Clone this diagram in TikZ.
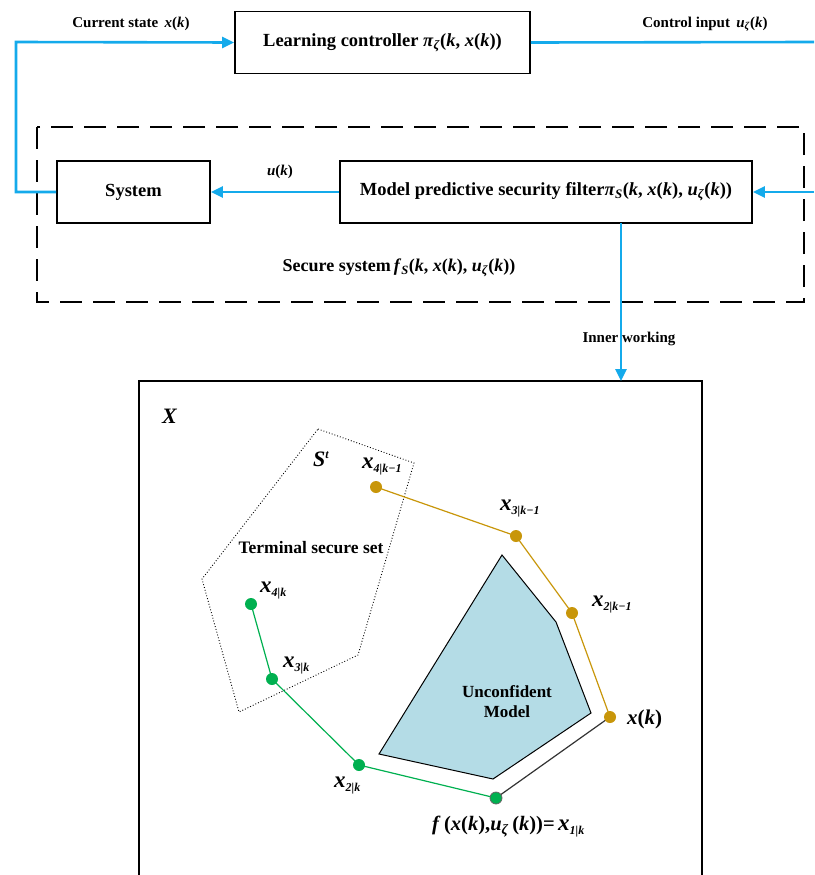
\documentclass[tikz,border=0pt]{standalone}
\usepackage{fontspec}
\setmainfont{Liberation Serif}
\usetikzlibrary{arrows.meta}
\definecolor{flow}{RGB}{20,170,235}
\definecolor{gold}{RGB}{200,150,10}
\definecolor{grn}{RGB}{0,176,80}
\definecolor{unc}{RGB}{180,220,230}
\newcommand{\vi}[1]{\textit{#1}}
\newcommand{\bigx}[1]{{\fontsize{23}{23}\selectfont\textit{x}}\raisebox{-4pt}{\fontsize{12}{12}\selectfont\textit{#1}}}
\begin{document}
\begin{tikzpicture}[x=1pt,y=-1pt,
  blk/.style={draw,line width=1.8pt,minimum height=62pt,inner sep=0pt,font=\fontsize{18.5}{18.5}\selectfont\bfseries},
  flowline/.style={flow,line width=2.6pt},
  flowarrow/.style={flowline,-{Triangle[length=12pt,width=11pt]}},
  lbl/.style={font=\fontsize{15}{15}\selectfont\bfseries,inner sep=0pt},
  gdot/.style={circle,fill=gold,minimum size=12pt,inner sep=0pt},
  ndot/.style={circle,fill=grn,minimum size=12pt,inner sep=0pt},
  xl/.style={font=\bfseries,inner sep=0pt,anchor=west}]
\useasboundingbox (0,0) rectangle (814,875);
% top blocks
\node[blk,minimum width=295pt] (lc) at (382.5,42.5) {Learning controller \vi{π}\textsubscript{\vi{ζ}}(\vi{k}, \vi{x}(\vi{k}))};
\node[blk,minimum width=153pt] (sys) at (133.5,192) {System};
\node[blk,minimum width=412pt] (mp) at (546,192) {Model predictive security filter\vi{π}\textsubscript{\vi{S}}(\vi{k}, \vi{x}(\vi{k}), \vi{u}\textsubscript{\vi{ζ}}(\vi{k}))};
% dashed secure system
\draw[line width=1.6pt,dash pattern=on 22pt off 11pt] (37,127) rectangle (804,302);
\node[lbl,font=\fontsize{18}{18}\selectfont\bfseries] (ss) at (399,268) {Secure system\,\vi{f}\textsubscript{\vi{S}}(\vi{k}, \vi{x}(\vi{k}), \vi{u}\textsubscript{\vi{ζ}}(\vi{k}))};
% coordinates
\coordinate (lT) at (16,42);
\coordinate (lB) at (16,192);
\coordinate (rTop) at (814,42);
\coordinate (rMid) at (814,192);
\coordinate (mpB) at (621,223);
% flows
\draw[flowarrow] (sys.west) -- (lB) -- (lT) -- (lc.west);
\draw[flowline] (lc.east) -- (rTop);
\draw[flowarrow] (rMid) -- (mp.east);
\draw[flowarrow] (mp.west) -- (sys.east);
% bottom box
\coordinate (bl) at (139,876);
\coordinate (tl) at (139,381);
\coordinate (tr) at (702,381);
\coordinate (br) at (702,876);
\draw[line width=1.8pt] (bl) -- (tl) -- (tr) -- (br);
\draw[flowarrow] (mpB) -- (621,381);
% labels
\node[lbl] (l1) at (131,24) {Current state\, \vi{x}(\vi{k})};
\node[lbl] (l2) at (705,24) {Control input\, \vi{u}\textsubscript{\vi{ζ}}(\vi{k})};
\node[lbl] (l3) at (280,172) {\vi{u}(\vi{k})};
\node[lbl] (l4) at (629,339) {Inner working};
% inner diagram
\node[font=\fontsize{22}{22}\selectfont\bfseries\itshape,inner sep=0pt,anchor=west] (X) at (162,416) {X};
\draw[dotted,line width=0.9pt] (318,429) -- (414,463) -- (358,655) -- (239,712) -- (202,579) -- cycle;
\node[xl,anchor=west] (St) at (313,459) {\fontsize{22}{22}\selectfont\textit{S}\raisebox{8pt}{\fontsize{12}{12}\selectfont\textit{t}}};
\node[font=\fontsize{17.5}{17.5}\selectfont\bfseries,inner sep=0pt] (tss) at (311,548) {Terminal secure set};
\draw[line width=1pt,fill=unc] (502,555) -- (556,622) -- (591,713) -- (493,779) -- (379,754) -- cycle;
\node[font=\fontsize{17}{20}\selectfont\bfseries,align=center,inner sep=0pt] (um) at (507,702) {Unconfident\\Model};
% trajectory points
\coordinate (g4) at (376,487);
\coordinate (g3) at (516,536);
\coordinate (g2) at (572,613);
\coordinate (g1) at (610,717);
\coordinate (n4) at (251,604);
\coordinate (n3) at (272,679);
\coordinate (n2) at (359,765);
\coordinate (n1) at (496,798);
\draw[gold,line width=1.2pt] (g4) -- (g3) -- (g2) -- (g1);
\draw[grn,line width=1.2pt] (n4) -- (n3) -- (n2) -- (n1);
\draw[black!80,line width=1.2pt] (n1) -- (g1);
\foreach \p in {g1,g2,g3,g4} \node[gdot] at (\p) {};
\foreach \p in {n2,n3,n4} \node[ndot] at (\p) {};
\node[ndot,draw=black!60,line width=0.8pt] at (n1) {};
% point labels
\node[xl] (lg4) at (362,467) {\bigx{4|k−1}};
\node[xl] (lg3) at (500,509) {\bigx{3|k−1}};
\node[xl] (lg2) at (592,605) {\bigx{2|k−1}};
\node[xl,font=\fontsize{21}{21}\selectfont\bfseries] (lg1) at (627,719) {\vi{x}(\vi{k})};
\node[xl] (ln4) at (260,591) {\bigx{4|k}};
\node[xl] (ln3) at (283,666) {\bigx{3|k}};
\node[xl] (ln2) at (334,786) {\bigx{2|k}};
\node[xl,font=\fontsize{20.5}{20.5}\selectfont\bfseries] (ln1) at (432,827) {\vi{f}\,(\vi{x}(\vi{k}),\vi{u}\textsubscript{\vi{ζ}}\,(\vi{k}))=\,{\fontsize{23}{23}\selectfont\vi{x}}\raisebox{-4pt}{\fontsize{12}{12}\selectfont\vi{1|k}}};
\end{tikzpicture}
\end{document}
